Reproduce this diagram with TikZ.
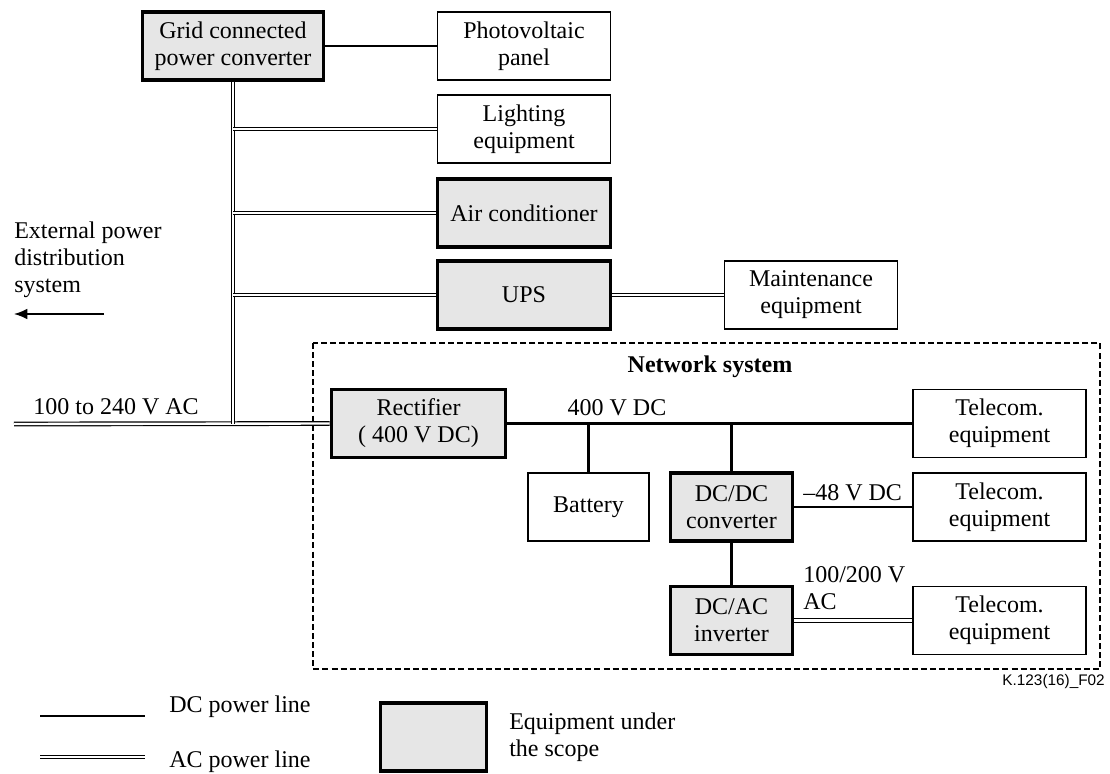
\documentclass[tikz,border=0pt]{standalone}
\usepackage{fontspec}
\setmainfont{Liberation Serif}
\setsansfont{Liberation Sans}
\usepackage{xcolor}
\usetikzlibrary{arrows.meta,calc,positioning}
\definecolor{scopegray}{HTML}{E6E6E6}

\begin{document}
\begin{tikzpicture}[
    x=0.75pt, y=-0.75pt,
    every node/.style={font=\fontsize{18}{20.25}\selectfont},
    eqbox/.style={draw, line width=1.2pt, fill=white, align=center, inner sep=0, minimum height=51pt},
    scopebox/.style={eqbox, line width=2.4pt, fill=scopegray},
    dcline/.style={line width=2.2pt},
    acline/.style={double, line width=0.9pt, double distance=1.8pt},
    lbl/.style={inner sep=0, align=left}]
\useasboundingbox (0,0) rectangle (1110,774);

\node[scopebox, minimum width=136pt] (Grid)  at (233,46)     {Grid connected\\power converter};
\node[eqbox,    minimum width=130pt] (PV)    at (524,46)     {Photovoltaic\\panel};
\node[eqbox,    minimum width=130pt] (Light) at (524,129)    {Lighting\\equipment};
\node[scopebox, minimum width=130pt] (Air)   at (524,213)    {Air conditioner};
\node[scopebox, minimum width=130pt] (UPS)   at (524,295)    {UPS};
\node[eqbox,    minimum width=130pt] (Maint) at (811,295)    {Maintenance\\equipment};

\node[scopebox, minimum width=131pt] (Rect)  at (418.5,423.5) {Rectifier\\( 400 V DC)};
\node[eqbox,    minimum width=91pt]  (Batt)  at (588.5,507)   {Battery};
\node[scopebox, minimum width=91pt]  (DCDC)  at (731.5,507)   {DC/DC\\converter};
\node[scopebox, minimum width=91pt]  (DCAC)  at (731.5,620.5) {DC/AC\\inverter};
\node[eqbox,    minimum width=130pt] (TelA)  at (999.5,423.5) {Telecom.\\equipment};
\node[eqbox,    minimum width=130pt] (TelB)  at (999.5,507)   {Telecom.\\equipment};
\node[eqbox,    minimum width=130pt] (TelC)  at (999.5,620.5) {Telecom.\\equipment};

\draw[line width=1.9pt, dash pattern=on 4.5pt off 2.3pt] (313,343) rectangle (1100,669);
\node[font=\fontsize{18}{20.25}\selectfont\bfseries] (NetSys) at (710,367) {Network system};

% AC side
\coordinate (acin) at (14,424);
\draw[acline] (acin) -- (Rect.west);
\draw[acline] (Grid.south) -- (Grid.south |- Rect.west);
\draw[acline] (Grid.south |- Light.west) -- (Light.west);
\draw[acline] (Grid.south |- Air.west) -- (Air.west);
\draw[acline] (Grid.south |- UPS.west) -- (UPS.west);
\draw[acline] (UPS.east) -- (Maint.west);
\draw[acline] (DCAC.east) -- (TelC.west);

% DC side
\draw[dcline] (Grid.east) -- (PV.west);
\draw[dcline] (Rect.east) -- (TelA.west);
\draw[dcline] (Batt.north) -- (Batt.north |- Rect.east);
\draw[dcline] (DCDC.north) -- (DCDC.north |- Rect.east);
\draw[dcline] (DCDC.south) -- (DCAC.north);
\draw[dcline] (DCDC.east) -- (TelB.west);

\node[lbl] (acvolt) at (116,407) {100 to 240 V AC};
\node[lbl] (dcbus) at (617,408) {400 V DC};
\node[lbl, anchor=west] (dc48) at (803,493) {–48 V DC};
\node[lbl, anchor=west] (ac100) at (803,588) {100/200 V\\AC};

\node[lbl, anchor=west] (ext) at (14,260) {External power\\distribution\\system};
\coordinate (extA) at (104,314);
\coordinate (extB) at (14,314);
\draw[line width=1.1pt, -{Latex[length=10pt, width=8pt]}] (extA) -- (extB);

% legend
\coordinate (dcA) at (40,716);
\coordinate (dcB) at (145,716);
\coordinate (acA) at (40,757);
\coordinate (acB) at (145,757);
\draw[dcline] (dcA) -- (dcB);
\draw[acline] (acA) -- (acB);
\node[lbl, anchor=west] (dcleg) at (169,707) {DC power line};
\node[lbl, anchor=west] (acleg) at (169,762) {AC power line};
\node[scopebox, minimum width=80pt, minimum height=51pt] (scopeleg) at (433.5,737) {};
\node[lbl, anchor=west] (scopetxt) at (509,737) {Equipment under\\the scope};

\node[lbl, anchor=east, font=\sffamily\fontsize{11.5}{13}\selectfont] (figid) at (1105,682) {K.123(16)\_F02};

\end{tikzpicture}
\end{document}
